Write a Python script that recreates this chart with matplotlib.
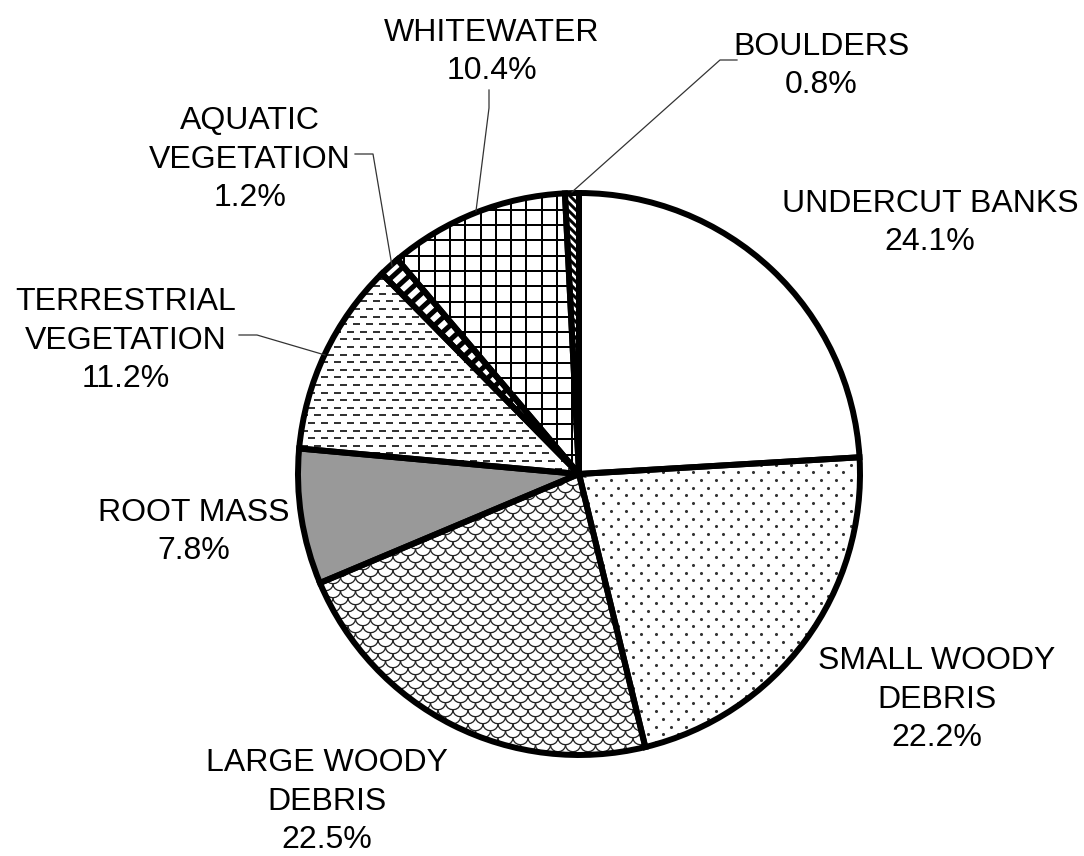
import numpy as np
import matplotlib
matplotlib.use("Agg")
import matplotlib.pyplot as plt
from matplotlib.collections import LineCollection

plt.rcParams['font.family'] = ['Liberation Sans', 'DejaVu Sans']

# Instream cover composition (percent)
categories = ["UNDERCUT BANKS", "SMALL WOODY\nDEBRIS", "LARGE WOODY\nDEBRIS", "ROOT MASS",
              "TERRESTRIAL\nVEGETATION", "AQUATIC\nVEGETATION", "WHITEWATER", "BOULDERS"]
percents = [24.1, 22.2, 22.5, 7.8, 11.2, 1.2, 10.4, 0.8]

W, H = 1084, 856
CX, CY, R = 579, H - 474, 281
LINE_H = 40.0


def py(y):
    # pixel row (from top) -> data y
    return H - y


fig = plt.figure(figsize=(W / 100, H / 100), dpi=100)
ax = fig.add_axes([0, 0, 1, 1])

wedges, _ = ax.pie(percents, startangle=90, counterclock=False, radius=R,
                   center=(CX, CY), colors=["white"] * len(percents),
                   wedgeprops=dict(linewidth=0))
wedges[3].set_facecolor("#999999")


def add_pattern(segs, wedge, lw_px, color="black"):
    lc = LineCollection(segs, linewidths=lw_px * 0.72, colors=color,
                        capstyle="butt", zorder=2)
    ax.add_collection(lc)
    lc.set_clip_path(wedge)


x0, x1 = CX - R - 10, CX + R + 10
y0, y1 = CY - R - 10, CY + R + 10

# small woody debris: staggered dots
sx, sy = [], []
for j, yy in enumerate(np.arange(y0, y1, 7.7)):
    off = 7.5 if j % 2 else 0
    for xx in np.arange(x0 + off, x1, 15):
        sx.append(xx)
        sy.append(yy)
dots = ax.scatter(sx, sy, s=5, color="#333333", linewidths=0, zorder=2)
dots.set_clip_path(wedges[1])

# large woody debris: shingles
segs = []
p = 15.0
t = np.linspace(np.pi, 2 * np.pi, 9)
for j, yy in enumerate(np.arange(y0, y1, 7.0)):
    off = (j % 2) * p / 2
    for xx in np.arange(x0 + off, x1, p):
        segs.append(np.column_stack([xx + p / 2 * np.cos(t), yy + 0.45 * p * np.sin(t) + 6]))
add_pattern(segs, wedges[2], 1.3, "#222222")

# terrestrial vegetation: staggered dashes
segs = []
for j, yy in enumerate(np.arange(y0, y1, 7.6)):
    off = 6.5 if j % 2 else 0
    for xx in np.arange(x0 + off, x1, 13):
        segs.append([(xx, yy), (xx + 7, yy)])
add_pattern(segs, wedges[4], 2.0, "#333333")

# aquatic vegetation: rungs across the wedge
a0, a1 = np.deg2rad(wedges[5].theta1), np.deg2rad(wedges[5].theta2)
am = (a0 + a1) / 2
u = np.array([np.cos(am), np.sin(am)])
v = np.array([-np.sin(am), np.cos(am)])
segs = []
for d in np.arange(4, R + 10, 10.7):
    c = np.array([CX, CY]) + u * d
    segs.append([c - v * 30, c + v * 30])
add_pattern(segs, wedges[5], 5.0)

# whitewater: square grid
segs = []
for xx in np.arange(419.3 - 15.3 * 20, x1, 15.3):
    segs.append([(xx, y0), (xx, y1)])
for yy in np.arange(py(225) - 15.3 * 40, y1, 15.3):
    segs.append([(x0, yy), (x1, yy)])
add_pattern(segs, wedges[6], 2.0)

# boulders: diagonal stripes
segs = []
for c in np.arange(-300, 300, 8):
    segs.append([(CX - 40, CY + R + c), (CX + 40, CY + R + c - 80)])
add_pattern(segs, wedges[7], 3.0)

# outlines on top
ax.pie(percents, startangle=90, counterclock=False, radius=R, center=(CX, CY),
       wedgeprops=dict(linewidth=4.3, edgecolor="black", facecolor="none", zorder=3))

# labels: (center x, first baseline in pixel rows)
label_pos = [(930, 210), (937, 666), (327, 768), (194, 519),
             (126, 307), (250, 126), (492, 39), (821, 53)]
for name, pct, (lx, ly) in zip(categories, percents, label_pos):
    txt = f"{name}\n{pct:.1f}%"
    last = ly + (txt.count("\n")) * LINE_H
    ax.text(lx, py(last), txt, ha="center", va="baseline",
            multialignment="center", fontsize=23, linespacing=1.36, color="black")

# leader lines
leaders = [
    [(737, 60), (720, 60), (572, 192)],
    [(489, 90), (489, 108), (476, 211)],
    [(355, 154), (373, 154), (392, 266)],
    [(239, 335), (257, 335), (325, 355)],
]
for pts in leaders:
    xs = [q[0] for q in pts]
    ys = [py(q[1]) for q in pts]
    ax.plot(xs, ys, color="#333333", linewidth=0.9, zorder=4)

ax.set_xlim(0, W)
ax.set_ylim(0, H)
ax.set_aspect("equal")
ax.axis("off")

fig.savefig("out.png", dpi=100)
